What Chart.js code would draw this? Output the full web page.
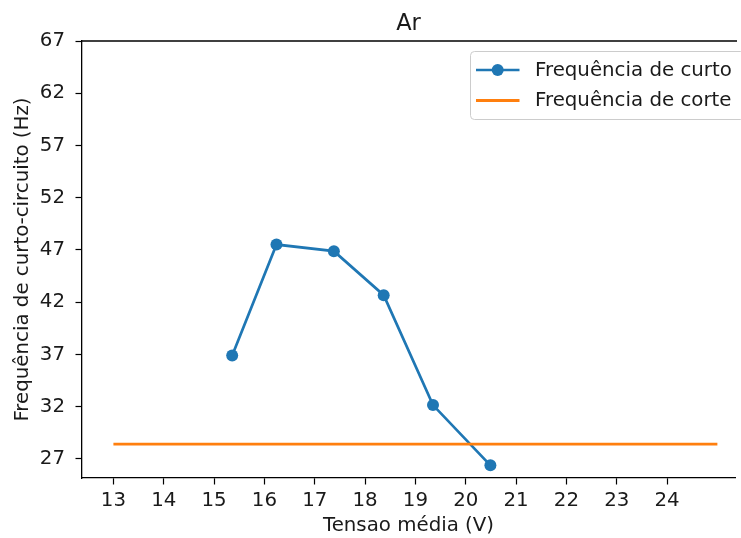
<!DOCTYPE html>
<html><head><meta charset="utf-8">
<script src="https://cdn.jsdelivr.net/npm/chart.js@4"></script>
<style>html,body{margin:0;padding:0;background:#fff;overflow:hidden}</style>
</head><body>
<canvas id="c" width="741" height="538"></canvas>
<script>
// ---- data ----
const tensao = [15.36, 16.24, 17.38, 18.37, 19.35, 20.49];
const freqCurto = [36.9, 47.52, 46.89, 42.68, 32.16, 26.39];
const corteX = [13, 25];
const freqCorte = [28.43, 28.43];
const xTicks = [13, 14, 15, 16, 17, 18, 19, 20, 21, 22, 23, 24];
const yTicks = [27, 32, 37, 42, 47, 52, 57, 62, 67];
const titleText = 'Ar';
const xLabel = 'Tensao média (V)';
const yLabel = 'Frequência de curto-circuito (Hz)';
const seriesNames = ['Frequência de curto', 'Frequência de corte'];

const FONT = "'DejaVu Sans', sans-serif";
const FS = 19.8;
const TXT = '#1a1a1a';

const framePlugin = {
  id: 'frame',
  afterDatasetsDraw(chart) {
    const ctx = chart.ctx, a = chart.chartArea;
    ctx.save();
    ctx.strokeStyle = '#000';
    ctx.lineWidth = 1.3;
    ctx.beginPath();
    ctx.moveTo(a.left, a.top);
    ctx.lineTo(a.right + 2, a.top);
    ctx.stroke();
    ctx.restore();
  }
};

const legendPlugin = {
  id: 'mplLegend',
  afterDraw(chart) {
    const ctx = chart.ctx, a = chart.chartArea;
    const x0 = 470.5, y0 = a.top + 10.5, w = 274, h = 68, r = 4;
    ctx.save();
    ctx.beginPath();
    ctx.moveTo(x0 + r, y0);
    ctx.lineTo(x0 + w - r, y0);
    ctx.arcTo(x0 + w, y0, x0 + w, y0 + r, r);
    ctx.lineTo(x0 + w, y0 + h - r);
    ctx.arcTo(x0 + w, y0 + h, x0 + w - r, y0 + h, r);
    ctx.lineTo(x0 + r, y0 + h);
    ctx.arcTo(x0, y0 + h, x0, y0 + h - r, r);
    ctx.lineTo(x0, y0 + r);
    ctx.arcTo(x0, y0, x0 + r, y0, r);
    ctx.closePath();
    ctx.fillStyle = 'rgba(255,255,255,0.8)';
    ctx.fill();
    ctx.strokeStyle = '#cccccc';
    ctx.lineWidth = 1;
    ctx.stroke();
    chart.data.datasets.forEach((ds, i) => {
      const cy = y0 + 18.5 + i * 30.5;
      ctx.strokeStyle = ds.borderColor;
      ctx.lineWidth = ds.borderWidth;
      ctx.beginPath();
      ctx.moveTo(x0 + 5.5, cy);
      ctx.lineTo(x0 + 49, cy);
      ctx.stroke();
      if (ds.pointRadius > 0) {
        ctx.fillStyle = ds.backgroundColor;
        ctx.beginPath();
        ctx.arc(x0 + 27.2, cy, ds.pointRadius, 0, Math.PI * 2);
        ctx.fill();
      }
      ctx.fillStyle = TXT;
      ctx.font = FS + 'px ' + FONT;
      ctx.textAlign = 'left';
      ctx.textBaseline = 'middle';
      ctx.fillText(ds.label, x0 + 64.5, cy + 0.5);
    });
    ctx.restore();
  }
};

new Chart(document.getElementById('c'), {
  type: 'scatter',
  data: {
    datasets: [
      {
        label: seriesNames[0],
        data: tensao.map((x, i) => ({ x: x, y: freqCurto[i] })),
        showLine: true,
        borderColor: '#1f77b4',
        backgroundColor: '#1f77b4',
        borderWidth: 2.7,
        pointRadius: 6,
        pointHoverRadius: 6,
        pointBorderWidth: 0,
        order: 1
      },
      {
        label: seriesNames[1],
        data: corteX.map((x, i) => ({ x: x, y: freqCorte[i] })),
        showLine: true,
        borderColor: '#ff7f0e',
        backgroundColor: '#ff7f0e',
        borderWidth: 2.8,
        pointRadius: 0,
        pointHoverRadius: 0,
        order: 0
      }
    ]
  },
  options: {
    responsive: false,
    devicePixelRatio: 1,
    animation: false,
    layout: { padding: { left: 0, right: 0, top: 0, bottom: 0 } },
    plugins: {
      legend: { display: false },
      tooltip: { enabled: false },
      title: {
        display: true, text: titleText, fullSize: false, color: TXT,
        font: { family: FONT, size: 22.5, weight: 'normal', lineHeight: 1.2 },
        padding: { top: 11, bottom: 3 }
      }
    },
    scales: {
      x: {
        type: 'linear', min: 12.376, max: 25.35,
        afterFit(s) { s.height = 60; },
        afterBuildTicks(s) { s.ticks = xTicks.map(v => ({ value: v })); },
        ticks: { font: { family: FONT, size: FS }, color: TXT, padding: 4.5, maxRotation: 0, autoSkip: false, callback: v => String(v) },
        grid: { display: true, drawOnChartArea: false, drawTicks: true, tickLength: 6.5, tickColor: '#000', tickWidth: 1.2 },
        border: { display: true, color: '#000', width: 1.3 },
        title: { display: true, text: xLabel, color: TXT, font: { family: FONT, size: FS, lineHeight: 1.2 }, padding: { top: 0, bottom: 0 } }
      },
      y: {
        type: 'linear', min: 25.18, max: 67,
        afterFit(s) { s.width = 82; },
        afterBuildTicks(s) { s.ticks = yTicks.map(v => ({ value: v })); },
        ticks: { font: { family: FONT, size: FS }, color: TXT, padding: 10.5, autoSkip: false, callback: v => String(v) },
        grid: { display: true, drawOnChartArea: false, drawTicks: true, tickLength: 6.5, tickColor: '#000', tickWidth: 1.2 },
        border: { display: true, color: '#000', width: 1.3 },
        title: { display: true, text: yLabel, color: TXT, font: { family: FONT, size: FS, lineHeight: 1.2 }, padding: { top: 10.5, bottom: 0 } }
      }
    }
  },
  plugins: [framePlugin, legendPlugin]
});
</script>
</body></html>
